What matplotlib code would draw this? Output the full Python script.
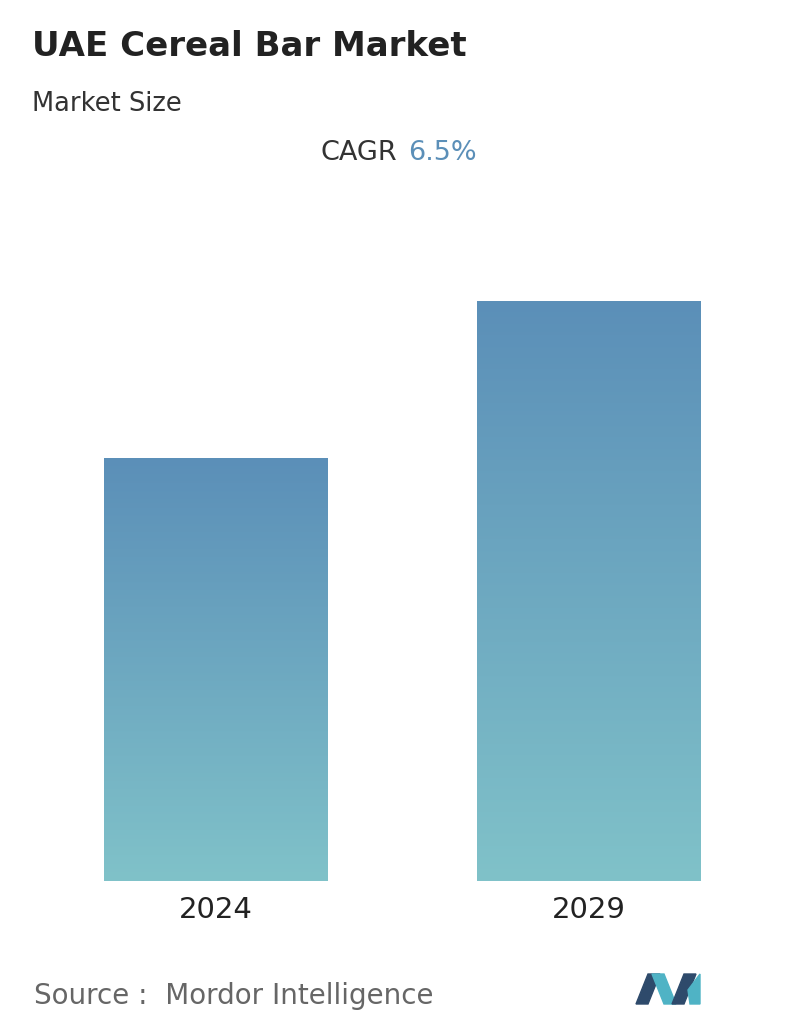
import numpy as np
import matplotlib.pyplot as plt
from matplotlib.colors import LinearSegmentedColormap
from matplotlib.patches import Polygon

years = ['2024', '2029']
values = [1.0, 1.37]
cagr = '6.5%'

W, H = 796, 1034
fig = plt.figure(figsize=(W / 100, H / 100), dpi=100)
fig.patch.set_facecolor('white')

# axes: bars bottom at y=881px, top of taller bar at 301px
ax = fig.add_axes([29.5 / W, (H - 881) / H, 746 / W, (881 - 301) / H])
ax.set_xlim(-0.5, 1.5)
ax.set_ylim(0, max(values))
ax.axis('off')

cmap = LinearSegmentedColormap.from_list('g', ['#80c2c9', '#5b8fb8'])
grad = np.linspace(0, 1, 256).reshape(-1, 1)
for i, v in enumerate(values):
    bar = ax.bar(i, v, width=0.6, color='none', edgecolor='none')[0]
    im = ax.imshow(grad, cmap=cmap, origin='lower', aspect='auto',
                   extent=(i - 0.3, i + 0.3, 0, v), zorder=2)
    im.set_clip_path(bar)
    ax.text(i, -0.035, years[i], ha='center', va='top', fontsize=21,
            color='#222222', transform=ax.transData)

fig.text(32 / W, 1 - 47 / H, 'UAE Cereal Bar Market', fontsize=24.5,
         fontweight='bold', color='#222222', va='center')
fig.text(32 / W, 1 - 104 / H, 'Market Size', fontsize=18.5, color='#333333',
         va='center')
fig.text(397 / W, 1 - 153 / H, 'CAGR', fontsize=19.5, color='#333333',
         va='center', ha='right')
fig.text(408 / W, 1 - 153 / H, cagr, fontsize=19.5, color='#5b8fb8',
         va='center', ha='left')
fig.text(34 / W, 1 - 996 / H, 'Source :  Mordor Intelligence', fontsize=20,
         color='#666666', va='center')

# logo
def px(pts):
    return [(x / W, 1 - y / H) for x, y in pts]

fig.patches.append(Polygon(px([(636, 1004), (648, 974), (660, 974), (648, 1004)]),
                           closed=True, color='#2e4a6b', transform=fig.transFigure))
fig.patches.append(Polygon(px([(652, 974), (664, 974), (676, 1004), (664, 1004)]),
                           closed=True, color='#4fb3c5', transform=fig.transFigure))
fig.patches.append(Polygon(px([(672, 1004), (684, 974), (696, 974), (684, 1004)]),
                           closed=True, color='#2e4a6b', transform=fig.transFigure))
fig.patches.append(Polygon(px([(688, 990), (700, 974), (700, 1004), (690, 1004)]),
                           closed=True, color='#4fb3c5', transform=fig.transFigure))

fig.savefig('out.png', dpi=100)
